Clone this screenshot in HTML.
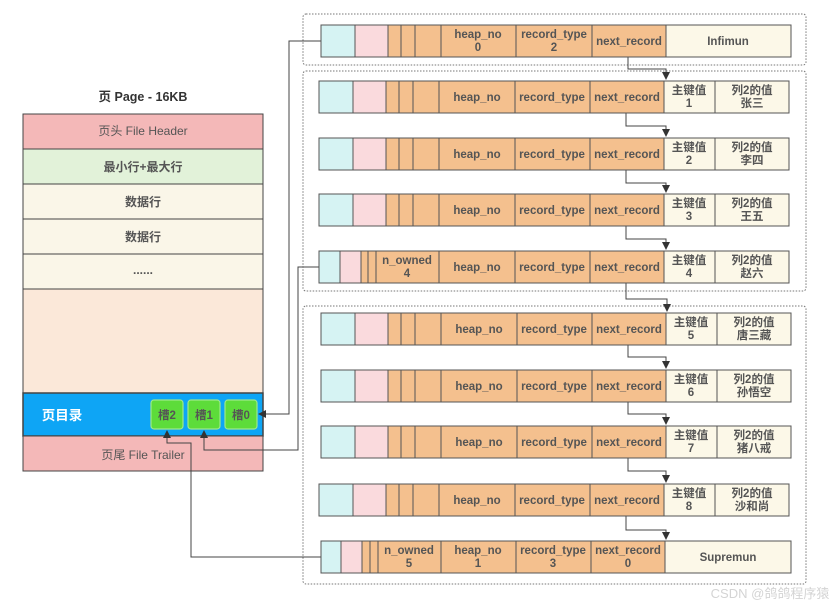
<!DOCTYPE html>
<html><head><meta charset="utf-8"><style>
html,body{margin:0;padding:0;background:#fff;width:836px;height:608px;overflow:hidden}
svg text{font-family:"Liberation Sans","Noto Sans CJK SC",sans-serif;font-size:11.5px;font-weight:bold;fill:#555;text-anchor:middle}
svg text.l{font-size:12px}
</style></head><body>
<svg width="836" height="608" viewBox="0 0 836 608" xmlns="http://www.w3.org/2000/svg">
<defs><marker id="a" markerWidth="8" markerHeight="8" refX="7" refY="4" orient="auto" markerUnits="userSpaceOnUse"><path d="M0,0 L8,4 L0,8 z" fill="#333"/></marker></defs>
<text x="143" y="101" style="font-size:12.5px;fill:#333">页 Page - 16KB</text>
<g stroke="#444" stroke-width="1">
<rect x="23" y="114" width="240" height="35" fill="#f4b8b8"/>
<rect x="23" y="149" width="240" height="35" fill="#e2f2d9"/>
<rect x="23" y="184" width="240" height="35" fill="#faf6e8"/>
<rect x="23" y="219" width="240" height="35" fill="#faf6e8"/>
<rect x="23" y="254" width="240" height="35" fill="#faf6e8"/>
<rect x="23" y="289" width="240" height="104" fill="#fbe8d9"/>
<rect x="23" y="393" width="240" height="43" fill="#0ea5f5" stroke-width="1.5"/>
<rect x="23" y="436" width="240" height="35" fill="#f4b8b8"/>
</g>
<g stroke="#9ee88a" stroke-width="1.2" fill="#5ddc3a">
<rect x="151" y="400" width="32" height="29" rx="3"/>
<rect x="188" y="400" width="32" height="29" rx="3"/>
<rect x="225" y="400" width="32" height="29" rx="3"/>
</g>
<text class="l" x="143" y="135" style="font-weight:normal">页头 File Header</text>
<text class="l" x="143" y="171">最小行+最大行</text>
<text class="l" x="143" y="206">数据行</text>
<text class="l" x="143" y="241">数据行</text>
<text class="l" x="143" y="274">......</text>
<text x="62" y="420" style="fill:#fff;font-size:13.5px">页目录</text>
<text x="167" y="419">槽2</text><text x="204" y="419">槽1</text><text x="241" y="419">槽0</text>
<text class="l" x="143" y="459" style="font-weight:normal">页尾 File Trailer</text>
<g fill="none" stroke="#777" stroke-dasharray="1.5,1.5">
<rect x="303" y="14" width="503" height="51" rx="3"/>
<rect x="303" y="71" width="503" height="220" rx="3"/>
<rect x="303" y="306" width="503" height="278" rx="3"/>
</g>
<g fill="none" stroke="#444" stroke-width="1">
<path d="M628,57 V69 H666 V79" marker-end="url(#a)"/>
<path d="M626,113 V126 H666 V136" marker-end="url(#a)"/>
<path d="M626,170 V183 H666 V192" marker-end="url(#a)"/>
<path d="M626,226 V239 H666 V249" marker-end="url(#a)"/>
<path d="M626,283 V299 H667 V311" marker-end="url(#a)"/>
<path d="M628,345 V357 H666 V368" marker-end="url(#a)"/>
<path d="M628,402 V414 H666 V424" marker-end="url(#a)"/>
<path d="M628,458 V471 H666 V482" marker-end="url(#a)"/>
<path d="M626,516 V530 H666 V539" marker-end="url(#a)"/>
<path d="M321,41 H289 V414 H259" marker-end="url(#a)"/>
<path d="M319,267 H298 V450 H204 V431" marker-end="url(#a)"/>
<path d="M321,557 H191 V443 H167 V431" marker-end="url(#a)"/>
</g>
<g stroke="#555" stroke-width="1">
<rect x="321" y="25" width="34" height="32" fill="#d6f3f3"/><rect x="355" y="25" width="33" height="32" fill="#fadadd"/>
<rect x="388" y="25" width="13" height="32" fill="#f4c08e"/><rect x="401" y="25" width="14" height="32" fill="#f4c08e"/><rect x="415" y="25" width="26" height="32" fill="#f4c08e"/>
<rect x="441" y="25" width="75" height="32" fill="#f4c08e"/><rect x="516" y="25" width="76" height="32" fill="#f4c08e"/><rect x="592" y="25" width="74" height="32" fill="#f4c08e"/><rect x="666" y="25" width="125" height="32" fill="#fcf8e8"/>
<g id="r1">
<rect x="319" y="81" width="34" height="32" fill="#d6f3f3"/><rect x="353" y="81" width="33" height="32" fill="#fadadd"/>
<rect x="386" y="81" width="13" height="32" fill="#f4c08e"/><rect x="399" y="81" width="14" height="32" fill="#f4c08e"/><rect x="413" y="81" width="26" height="32" fill="#f4c08e"/>
<rect x="439" y="81" width="76" height="32" fill="#f4c08e"/><rect x="515" y="81" width="75" height="32" fill="#f4c08e"/><rect x="590" y="81" width="74" height="32" fill="#f4c08e"/>
<rect x="664" y="81" width="51" height="32" fill="#fcf8e8"/><rect x="715" y="81" width="74" height="32" fill="#fcf8e8"/>
</g>
<use href="#r1" y="57"/><use href="#r1" y="113"/>
<rect x="319" y="251" width="21" height="32" fill="#d6f3f3"/><rect x="340" y="251" width="21" height="32" fill="#fadadd"/>
<rect x="361" y="251" width="7" height="32" fill="#f4c08e"/><rect x="368" y="251" width="8" height="32" fill="#f4c08e"/><rect x="376" y="251" width="63" height="32" fill="#f4c08e"/>
<rect x="439" y="251" width="76" height="32" fill="#f4c08e"/><rect x="515" y="251" width="75" height="32" fill="#f4c08e"/><rect x="590" y="251" width="74" height="32" fill="#f4c08e"/>
<rect x="664" y="251" width="51" height="32" fill="#fcf8e8"/><rect x="715" y="251" width="74" height="32" fill="#fcf8e8"/>
<use href="#r1" x="2" y="232"/><use href="#r1" x="2" y="289"/><use href="#r1" x="2" y="345"/><use href="#r1" x="0" y="403"/>
<rect x="321" y="541" width="20" height="32" fill="#d6f3f3"/><rect x="341" y="541" width="21" height="32" fill="#fadadd"/>
<rect x="362" y="541" width="8" height="32" fill="#f4c08e"/><rect x="370" y="541" width="8" height="32" fill="#f4c08e"/><rect x="378" y="541" width="63" height="32" fill="#f4c08e"/>
<rect x="441" y="541" width="75" height="32" fill="#f4c08e"/><rect x="516" y="541" width="75" height="32" fill="#f4c08e"/><rect x="591" y="541" width="74" height="32" fill="#f4c08e"/><rect x="665" y="541" width="126" height="32" fill="#fcf8e8"/>
</g>
<text x="478" y="38">heap_no</text><text x="478" y="51">0</text>
<text x="554" y="38">record_type</text><text x="554" y="51">2</text>
<text x="629" y="45">next_record</text><text x="728" y="45">Infimun</text>

<text x="477" y="101">heap_no</text><text x="552" y="101">record_type</text><text x="627" y="101">next_record</text>
<text x="689" y="94">主键值</text><text x="689" y="107">1</text><text x="752" y="94">列2的值</text><text x="752" y="107">张三</text>
<text x="477" y="158">heap_no</text><text x="552" y="158">record_type</text><text x="627" y="158">next_record</text>
<text x="689" y="151">主键值</text><text x="689" y="164">2</text><text x="752" y="151">列2的值</text><text x="752" y="164">李四</text>
<text x="477" y="214">heap_no</text><text x="552" y="214">record_type</text><text x="627" y="214">next_record</text>
<text x="689" y="207">主键值</text><text x="689" y="220">3</text><text x="752" y="207">列2的值</text><text x="752" y="220">王五</text>
<text x="407" y="264">n_owned</text><text x="407" y="277">4</text>
<text x="477" y="271">heap_no</text><text x="552" y="271">record_type</text><text x="627" y="271">next_record</text>
<text x="689" y="264">主键值</text><text x="689" y="277">4</text><text x="752" y="264">列2的值</text><text x="752" y="277">赵六</text>

<text x="479" y="333">heap_no</text><text x="554" y="333">record_type</text><text x="629" y="333">next_record</text>
<text x="691" y="326">主键值</text><text x="691" y="339">5</text><text x="754" y="326">列2的值</text><text x="754" y="339">唐三藏</text>
<text x="479" y="390">heap_no</text><text x="554" y="390">record_type</text><text x="629" y="390">next_record</text>
<text x="691" y="383">主键值</text><text x="691" y="396">6</text><text x="754" y="383">列2的值</text><text x="754" y="396">孙悟空</text>
<text x="479" y="446">heap_no</text><text x="554" y="446">record_type</text><text x="629" y="446">next_record</text>
<text x="691" y="439">主键值</text><text x="691" y="452">7</text><text x="754" y="439">列2的值</text><text x="754" y="452">猪八戒</text>
<text x="477" y="504">heap_no</text><text x="552" y="504">record_type</text><text x="627" y="504">next_record</text>
<text x="689" y="497">主键值</text><text x="689" y="510">8</text><text x="752" y="497">列2的值</text><text x="752" y="510">沙和尚</text>

<text x="409" y="554">n_owned</text><text x="409" y="567">5</text>
<text x="478" y="554">heap_no</text><text x="478" y="567">1</text>
<text x="553" y="554">record_type</text><text x="553" y="567">3</text>
<text x="628" y="554">next_record</text><text x="628" y="567">0</text>
<text x="728" y="561">Supremun</text>
<text x="770" y="598" style="font-weight:normal;font-size:13px;fill:#d4d4d4">CSDN @鸽鸽程序猿</text>
</svg>
</body></html>
